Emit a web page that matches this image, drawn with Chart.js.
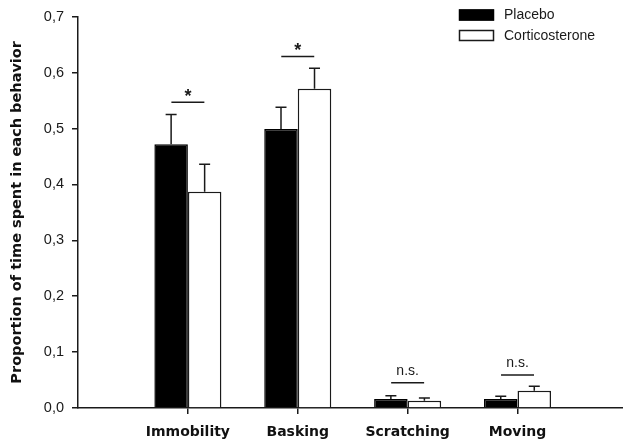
<!DOCTYPE html>
<html lang="en">
<head>
    <meta charset="UTF-8">
    <title>Proportion of time per behavior</title>
    <script src="https://cdn.jsdelivr.net/npm/chart.js"></script>
    <style>
        body {
            margin: 0;
            background: white;
        }
        .chart-box {
            width: 623px;
            height: 446px;
        }
    </style>
</head>
<body>
    <div class="chart-box">
        <canvas id="behaviorChart"></canvas>
    </div>

    <script>
        // values
        const categories = ['Immobility', 'Basking', 'Scratching', 'Moving'];
        const placebo = [0.472, 0.499, 0.016, 0.016];
        const placeboErr = [0.053, 0.039, 0.006, 0.005];
        const cort = [0.387, 0.571, 0.013, 0.031];
        const cortErr = [0.049, 0.037, 0.005, 0.008];
        const sigLevels = [0.547, 0.629, 0.045, 0.059];
        const sigLabels = ['*', '*', 'n.s.', 'n.s.'];
        const yTicks = [0, 0.1, 0.2, 0.3, 0.4, 0.5, 0.6, 0.7];

        const ink = '#1a1a1a';
        const boldFont = '"DejaVu Sans", sans-serif';
        const plainFont = '"Liberation Sans", Arial, sans-serif';

        const toPoints = vals => vals.map((v, i) => ({ x: i, y: v }));

        // error bars (upper only) on top of each bar
        const errorBars = {
            id: 'errorBars',
            afterDatasetsDraw(chart) {
                const ctx = chart.ctx;
                const yScale = chart.scales.y;
                ctx.save();
                ctx.strokeStyle = ink;
                ctx.lineWidth = 1.5;
                chart.data.datasets.forEach((ds, d) => {
                    const meta = chart.getDatasetMeta(d);
                    meta.data.forEach((bar, i) => {
                        const top = yScale.getPixelForValue(ds.data[i].y + ds.errors[i]);
                        ctx.beginPath();
                        ctx.moveTo(bar.x, bar.y);
                        ctx.lineTo(bar.x, top);
                        ctx.moveTo(bar.x - 5.5, top);
                        ctx.lineTo(bar.x + 5.5, top);
                        ctx.stroke();
                    });
                });
                ctx.restore();
            }
        };

        // significance markers and legend
        const annotations = {
            id: 'annotations',
            afterDraw(chart) {
                const ctx = chart.ctx;
                const xScale = chart.scales.x;
                const yScale = chart.scales.y;
                ctx.save();
                ctx.strokeStyle = ink;
                ctx.fillStyle = ink;
                ctx.lineWidth = 1.5;
                ctx.textAlign = 'center';
                ctx.textBaseline = 'alphabetic';
                sigLevels.forEach((lvl, i) => {
                    const y = yScale.getPixelForValue(lvl);
                    const x1 = xScale.getPixelForValue(i - 0.15);
                    const x2 = xScale.getPixelForValue(i + 0.15);
                    ctx.beginPath();
                    ctx.moveTo(x1, y);
                    ctx.lineTo(x2, y);
                    ctx.stroke();
                    const cx = (x1 + x2) / 2;
                    if (sigLabels[i] === '*') {
                        ctx.font = 'bold 18px ' + plainFont;
                        ctx.fillText('*', cx, y - 0.5);
                    } else {
                        ctx.font = '14px ' + plainFont;
                        ctx.fillText(sigLabels[i], cx, y - 8);
                    }
                });

                // legend
                ctx.textAlign = 'left';
                ctx.textBaseline = 'middle';
                ctx.font = '14px ' + plainFont;
                const rows = [15, 35.5];
                chart.data.datasets.forEach((ds, d) => {
                    const cy = rows[d];
                    ctx.fillStyle = ds.backgroundColor;
                    ctx.fillRect(459, cy - 5.5, 35, 11);
                    ctx.strokeStyle = ds.borderColor;
                    ctx.lineWidth = 1.5;
                    ctx.strokeRect(459.5, cy - 5, 34, 10);
                    ctx.fillStyle = ink;
                    ctx.fillText(ds.label, 504, cy + 0.5);
                });
                ctx.restore();
            }
        };

        new Chart(document.getElementById('behaviorChart'), {
            type: 'bar',
            data: {
                datasets: [
                    {
                        label: 'Placebo',
                        data: toPoints(placebo),
                        errors: placeboErr,
                        backgroundColor: '#000',
                        borderColor: '#000',
                        borderWidth: 1.5
                    },
                    {
                        label: 'Corticosterone',
                        data: toPoints(cort),
                        errors: cortErr,
                        backgroundColor: '#fff',
                        borderColor: ink,
                        borderWidth: 1.5
                    }
                ]
            },
            options: {
                responsive: true,
                maintainAspectRatio: false,
                animation: false,
                layout: { padding: { top: 12, left: 0, right: 0, bottom: 0 } },
                datasets: {
                    bar: { categoryPercentage: 0.61, barPercentage: 1.0 }
                },
                scales: {
                    x: {
                        type: 'linear',
                        min: -1,
                        max: 3.96,
                        offset: false,
                        afterBuildTicks: s => { s.ticks = categories.map((c, i) => ({ value: i })); },
                        afterFit: s => { s.height = 38; },
                        grid: { drawOnChartArea: false, drawTicks: true, tickLength: 6, color: ink, lineWidth: 1.5, offset: false },
                        border: { display: true, color: ink, width: 1.5 },
                        ticks: {
                            autoSkip: false,
                            maxRotation: 0,
                            padding: 10,
                            color: '#111',
                            font: { family: boldFont, size: 14, weight: 'bold' },
                            callback: v => categories[v]
                        }
                    },
                    y: {
                        min: 0,
                        max: 0.7,
                        afterBuildTicks: s => { s.ticks = yTicks.map(v => ({ value: v })); },
                        afterFit: s => { s.width = 78; },
                        grid: { drawOnChartArea: false, drawTicks: true, tickLength: 6, color: ink, lineWidth: 1.5 },
                        border: { display: true, color: ink, width: 1.5 },
                        ticks: {
                            padding: 8,
                            color: '#1a1a1a',
                            font: { family: plainFont, size: 14.5 },
                            callback: v => v.toFixed(1).replace('.', ',')
                        },
                        title: {
                            display: true,
                            text: 'Proportion of time spent in each behavior',
                            color: '#111',
                            padding: { top: 9, bottom: 0 },
                            font: { family: boldFont, size: 14.5, weight: 'bold' }
                        }
                    }
                },
                plugins: {
                    legend: { display: false },
                    tooltip: { enabled: false }
                }
            },
            plugins: [errorBars, annotations]
        });
    </script>
</body>
</html>
